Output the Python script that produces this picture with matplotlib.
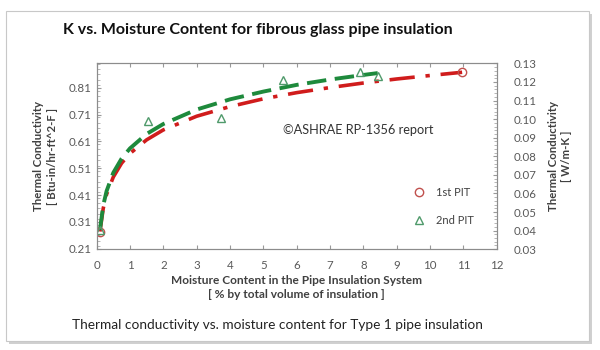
import matplotlib
matplotlib.use("Agg")
import matplotlib.pyplot as plt
from matplotlib.patches import Rectangle
from matplotlib.ticker import MultipleLocator, FormatStrFormatter
from matplotlib.lines import Line2D

plt.rcParams['font.family'] = ['Lato', 'DejaVu Sans']

# measured points (moisture %, k in Btu-in/hr-ft^2-F)
pit1_x = [0.1, 10.96]
pit1_k = [0.274, 0.868]
pit2_x = [0.1, 1.55, 3.72, 5.58, 7.9, 8.43]
pit2_k = [0.28, 0.686, 0.696, 0.839, 0.870, 0.855]

# trend lines
trend1_x = [0.1, 0.2, 0.3, 0.5, 0.75, 1, 1.5, 2, 3, 4, 5, 6, 7, 8, 9, 10, 10.96]
trend1_k = [0.274, 0.361, 0.413, 0.477, 0.529, 0.565, 0.616, 0.653, 0.704, 0.740,
            0.769, 0.792, 0.811, 0.828, 0.843, 0.856, 0.868]
trend2_x = [0.1, 0.2, 0.3, 0.5, 0.75, 1, 1.5, 2, 3, 4, 5, 6, 7, 8, 8.43]
trend2_k = [0.280, 0.372, 0.425, 0.493, 0.546, 0.584, 0.638, 0.675, 0.729, 0.767,
            0.796, 0.821, 0.841, 0.858, 0.865]

left_ticks = [0.21, 0.31, 0.41, 0.51, 0.61, 0.71, 0.81]
conv = 6.933  # W/m-K -> Btu-in/hr-ft^2-F

red = '#d01c1c'
green = '#1e8a3c'
gray = '#595959'

fig = plt.figure(figsize=(6, 3.5), dpi=100)

# framed card with a soft shadow
fig.patches.append(Rectangle((9 / 600, 6 / 350), 583 / 600, 330 / 350, transform=fig.transFigure,
                             facecolor='#d0d0d0', edgecolor='none', zorder=-2))
fig.patches.append(Rectangle((6 / 600, 9 / 350), 583 / 600, 330 / 350, transform=fig.transFigure,
                             facecolor='white', edgecolor='#c8c8c8', lw=0.8, zorder=-1))

ax = fig.add_axes([0.161, 0.288, 0.667, 0.531])
ax.plot(trend1_x, trend1_k, color=red, lw=2.6, dashes=(7, 3, 1.2, 3))
ax.plot(trend2_x, trend2_k, color=green, lw=2.8, dashes=(5, 2.2))
ax.plot(pit1_x, pit1_k, 'o', mfc='none', mec='#c0504d', ms=6, mew=1)
ax.plot(pit2_x, pit2_k, '^', mfc='none', mec='#4f9a6b', ms=6, mew=1)

ax.set_xlim(0, 12)
ax.set_ylim(0.03 * conv, 0.13 * conv)
ax.set_yticks(left_ticks)
ax.yaxis.set_major_formatter(FormatStrFormatter('%.2f'))
ax.xaxis.set_major_locator(MultipleLocator(1))
ax.yaxis.set_minor_locator(MultipleLocator(0.02))
ax.tick_params(axis='both', direction='in', labelsize=8.3, labelcolor=gray, color='#999999',
               length=3, top=True)
ax.tick_params(axis='y', which='minor', direction='in', length=2, color='#aaaaaa')
ax.tick_params(axis='x', pad=8)
for s in ax.spines.values():
    s.set_color('#8c8c8c')

ax.set_xlabel('Moisture Content in the Pipe Insulation System\n[ % by total volume of insulation ]',
              fontsize=8.6, fontweight='bold', color='#404040', labelpad=3, linespacing=1.25)
ax.set_ylabel('Thermal Conductivity\n[ Btu-in/hr-ft^2-F ]', fontsize=8.2, fontweight='bold',
              color='#404040', labelpad=8, linespacing=1.3)

ax2 = ax.twinx()
ax2.set_ylim(0.03, 0.13)
ax2.yaxis.set_major_locator(MultipleLocator(0.01))
ax2.yaxis.set_minor_locator(MultipleLocator(0.002))
ax2.yaxis.set_major_formatter(FormatStrFormatter('%.2f'))
ax2.tick_params(axis='y', direction='in', labelsize=8.3, labelcolor=gray, color='#999999',
                length=3, pad=12)
ax2.tick_params(axis='y', which='minor', direction='in', length=2, color='#aaaaaa')
for s in ax2.spines.values():
    s.set_color('#8c8c8c')
ax2.set_ylabel('Thermal Conductivity\n[ W/m-K ]', fontsize=8.2, fontweight='bold',
               color='#404040', labelpad=8, linespacing=1.3)

ax.text(5.6, 0.094 * conv, '\u00a9ASHRAE RP-1356 report', fontsize=9.2, color='#333333',
        va='center', family=['Lato', 'DejaVu Sans'])

handles = [Line2D([], [], ls='none', marker='o', mfc='none', mec='#c0504d', ms=6),
           Line2D([], [], ls='none', marker='^', mfc='none', mec='#4f9a6b', ms=6)]
leg = ax.legend(handles, ['1st PIT', '2nd PIT'], loc='center left', bbox_to_anchor=(0.765, 0.23),
                frameon=False, fontsize=8, labelspacing=1.6, handletextpad=0.9, handlelength=1.2)
for t in leg.get_texts():
    t.set_color('#404040')

fig.text(0.43, 0.915, 'K vs. Moisture Content for fibrous glass pipe insulation', ha='center',
         va='center', fontsize=11.5, fontweight='bold', color='#111111')
fig.text(0.462, 0.071, 'Thermal conductivity vs. moisture content for Type 1 pipe insulation',
         ha='center', va='center', fontsize=9.8, color='#222222')

fig.savefig('out.png', dpi=100)
